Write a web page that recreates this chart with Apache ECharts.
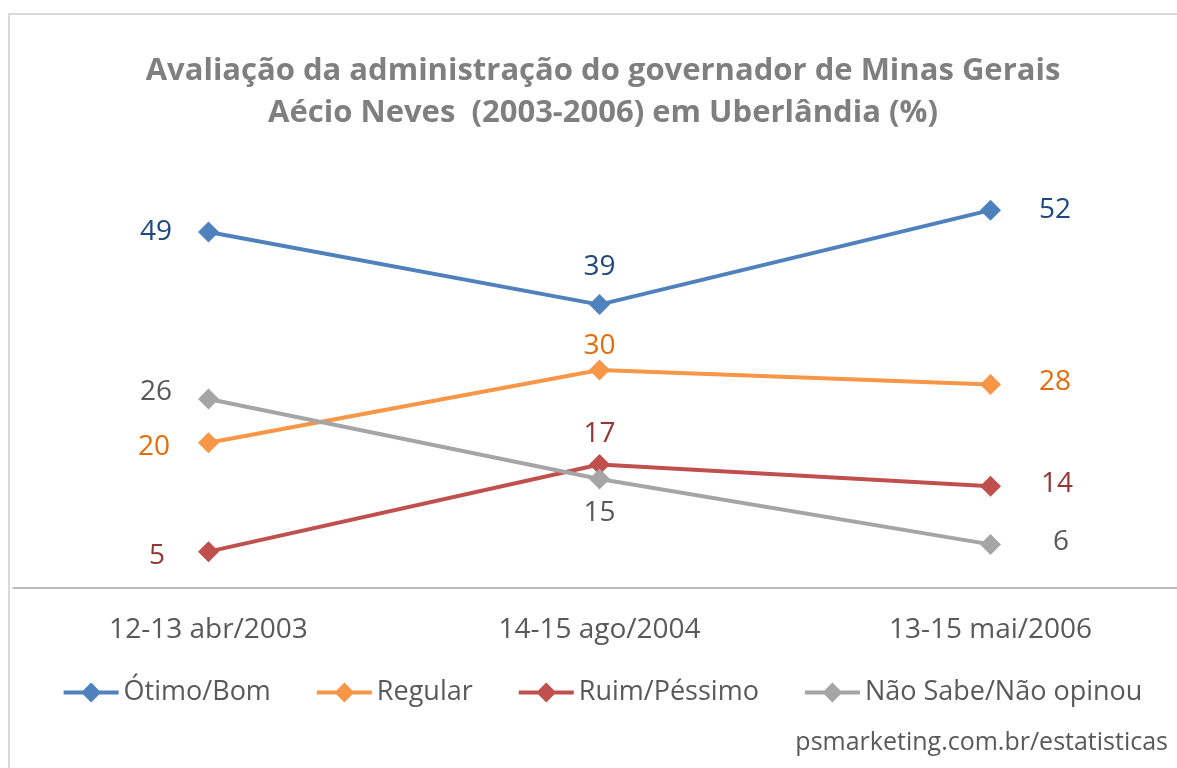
<!DOCTYPE html>
<html><head><meta charset="utf-8">
<script src="https://cdn.jsdelivr.net/npm/echarts@6/dist/echarts.min.js"></script>
<style>html,body{margin:0;padding:0;background:#fff;overflow:hidden}#c{width:1206px;height:768px}</style>
</head><body><div id="c"></div>
<script>
const categories = ['12-13 abr/2003', '14-15 ago/2004', '13-15 mai/2006'];
const otimoBom = [49, 39, 52];
const regular = [20, 30, 28];
const ruimPessimo = [5, 17, 14];
const naoSabe = [26, 15, 6];
const seriesNames = ['Ótimo/Bom', 'Regular', 'Ruim/Péssimo', 'Não Sabe/Não opinou'];

const FONT = '"Open Sans", "Noto Sans", sans-serif';
function mk(name, data, color, labelColor, positions, distances, offsets) {
  return {
    name, type: 'line', data: data.map((v, i) => ({
      value: v,
      label: { position: positions[i], distance: distances[i], offset: offsets ? offsets[i] : [0, 0] }
    })),
    symbol: 'diamond', symbolSize: 21, color,
    lineStyle: { width: 4, color },
    itemStyle: { color },
    label: { show: true, color: labelColor, fontSize: 28, fontFamily: FONT },
    emphasis: { disabled: true }, animation: false
  };
}
const chart = echarts.init(document.getElementById('c'));
chart.setOption({
  animation: false,
  title: {
    text: 'Avaliação da administração do governador de Minas Gerais\nAécio Neves  (2003-2006) em Uberlândia (%)',
    left: 'center', top: 45,
    textStyle: { color: '#7F7F7F', fontSize: 31, fontWeight: 'bold', fontFamily: FONT, lineHeight: 42 }
  },
  graphic: [
    { type: 'rect', shape: { x: 9, y: 14, width: 1185, height: 770 }, style: { fill: 'none', stroke: '#D9D9D9', lineWidth: 2 }, silent: true },
    { type: 'text', right: 38, top: 730, style: { text: 'psmarketing.com.br/estatisticas', fill: '#595959', font: '25px ' + FONT } }
  ],
  legend: {
    top: 674, left: 'center', itemGap: 46, itemWidth: 55, itemHeight: 20,
    icon: 'path://M0,8L55,8L55,12L0,12Z M17.5,10L27.5,0L37.5,10L27.5,20Z',
    textStyle: { color: '#595959', fontSize: 27, fontFamily: FONT },
    data: seriesNames
  },
  grid: { left: 13, right: 20, top: 152, height: 436 },
  xAxis: {
    type: 'category', data: categories, boundaryGap: true,
    axisLine: { lineStyle: { color: '#A6A6A6', width: 1.5 } },
    axisTick: { show: false },
    axisLabel: { color: '#595959', fontSize: 28, fontFamily: FONT, margin: 28 }
  },
  yAxis: { type: 'value', min: 0, max: 60, show: false, splitLine: { show: false } },
  series: [
    mk(seriesNames[0], otimoBom, '#4F81BD', '#1F497D', ['left', 'top', 'right'], [26, 13, 38]),
    mk(seriesNames[1], regular, '#F79646', '#E46C0A', ['left', 'top', 'right'], [28, -1, 38], [[0, 4], [0, 0], [0, -3]]),
    mk(seriesNames[2], ruimPessimo, '#C0504D', '#953735', ['left', 'top', 'right'], [33, 6, 40], [[0, 4], [0, 0], [0, -2]]),
    mk(seriesNames[3], naoSabe, '#A5A5A5', '#595959', ['left', 'bottom', 'right'], [26, 10, 52], [[0, -7], [0, 0], [0, -2]])
  ]
});
</script></body></html>
